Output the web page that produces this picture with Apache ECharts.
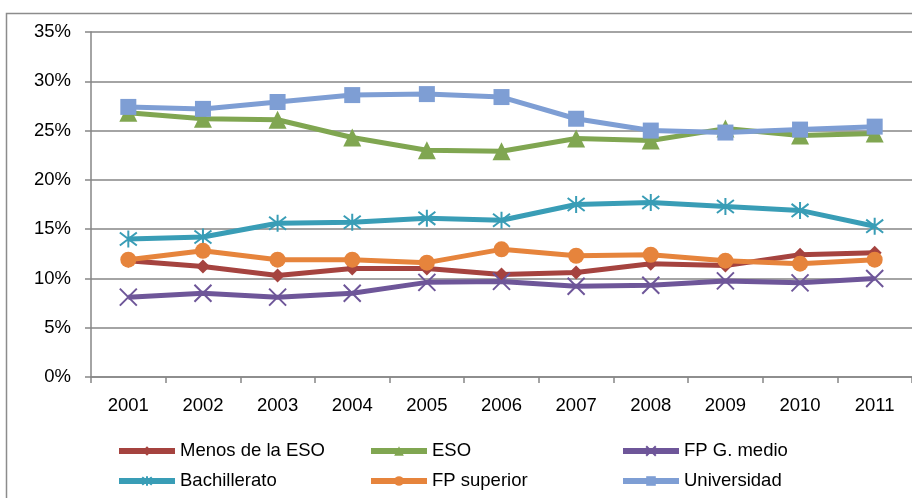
<!DOCTYPE html>
<html>
<head>
<meta charset="utf-8">
<script src="https://cdn.jsdelivr.net/npm/echarts@6/dist/echarts.min.js"></script>
<style>
  html, body { margin: 0; padding: 0; background: #fff; }
  #chart { width: 912px; height: 498px; }
</style>
</head>
<body>
<div id="chart"></div>
<script>
const years = ['2001', '2002', '2003', '2004', '2005', '2006', '2007', '2008', '2009', '2010', '2011'];

const menosESO = [11.8, 11.2, 10.3, 11.0, 11.0, 10.4, 10.6, 11.5, 11.3, 12.4, 12.6];
const eso = [26.8, 26.2, 26.1, 24.3, 23.0, 22.9, 24.2, 24.0, 25.2, 24.5, 24.7];
const fpMedio = [8.1, 8.5, 8.1, 8.5, 9.6, 9.7, 9.2, 9.3, 9.75, 9.55, 10.0];
const bachillerato = [14.0, 14.2, 15.6, 15.7, 16.1, 15.9, 17.5, 17.7, 17.3, 16.9, 15.3];
const fpSuperior = [11.9, 12.8, 11.9, 11.9, 11.6, 12.95, 12.3, 12.4, 11.8, 11.5, 11.9];
const universidad = [27.4, 27.2, 27.9, 28.6, 28.7, 28.4, 26.2, 25.0, 24.8, 25.1, 25.4];

const yTicks = { min: 0, max: 35, step: 5 };

const font = "'Liberation Sans', Arial, sans-serif";
const X_PATH = 'path://M0,0L10,10M10,0L0,10';
const STAR_PATH = 'path://M0,0L10,10M10,0L0,10M5,-1.5L5,11.5';

function line(name, data, color, symbol, size, stroke) {
    return {
        name: name,
        type: 'line',
        data: data,
        symbol: symbol,
        symbolSize: size,
        showAllSymbol: true,
        lineStyle: { color: color, width: 5 },
        itemStyle: {
            color: color,
            borderColor: color,
            borderWidth: stroke ? 2 : 0,
            opacity: 1
        },
        emphasis: { disabled: true }
    };
}

// one legend per entry so the 3x2 layout matches
function legendAt(name, left, top) {
    return {
        data: [name],
        left: left,
        top: top,
        padding: 0,
        orient: 'horizontal',
        itemWidth: 56,
        itemHeight: 12,
        selectedMode: false,
        lineStyle: { width: 6 },
        textStyle: { fontFamily: font, fontSize: 18.5, color: '#000', lineHeight: 20 }
    };
}

const chart = echarts.init(document.getElementById('chart'));
chart.setOption({
    animation: false,
    backgroundColor: '#fff',
    graphic: [{
        type: 'rect',
        left: 4,
        top: 11,
        shape: { width: 960, height: 560 },
        style: { fill: 'none', stroke: '#8c8c8c', lineWidth: 1.5 },
        silent: true
    }],
    grid: { left: 91, top: 32, width: 828, height: 345 },
    legend: [
        legendAt('Menos de la ESO', 116, 441),
        legendAt('ESO', 368, 441),
        legendAt('FP G. medio', 620, 441),
        legendAt('Bachillerato', 116, 471),
        legendAt('FP superior', 368, 471),
        legendAt('Universidad', 620, 471)
    ],
    xAxis: {
        type: 'category',
        data: years,
        boundaryGap: true,
        axisLine: { lineStyle: { color: '#868686', width: 1.5 } },
        axisTick: { show: true, length: 6, lineStyle: { color: '#868686', width: 1.5 } },
        axisLabel: { fontFamily: font, fontSize: 18.5, color: '#000', margin: 19 },
        splitLine: { show: false }
    },
    yAxis: {
        type: 'value',
        min: yTicks.min,
        max: yTicks.max,
        interval: yTicks.step,
        axisLine: { show: true, lineStyle: { color: '#868686', width: 1.5 } },
        axisTick: { show: true, length: 6, lineStyle: { color: '#868686', width: 1.5 } },
        axisLabel: { fontFamily: font, fontSize: 18.5, color: '#000', margin: 20, formatter: '{value}%' },
        splitLine: { show: true, lineStyle: { color: '#868686', width: 1.5 } }
    },
    series: [
        line('Menos de la ESO', menosESO, '#A5433F', 'diamond', 14, false),
        line('ESO', eso, '#80A651', 'triangle', 18, false),
        line('FP G. medio', fpMedio, '#6E5699', X_PATH, 17, true),
        line('Bachillerato', bachillerato, '#399DB6', STAR_PATH, 17, true),
        line('FP superior', fpSuperior, '#E6843C', 'circle', 16, false),
        line('Universidad', universidad, '#7E9ED4', 'rect', 16, false)
    ]
});
</script>
</body>
</html>
